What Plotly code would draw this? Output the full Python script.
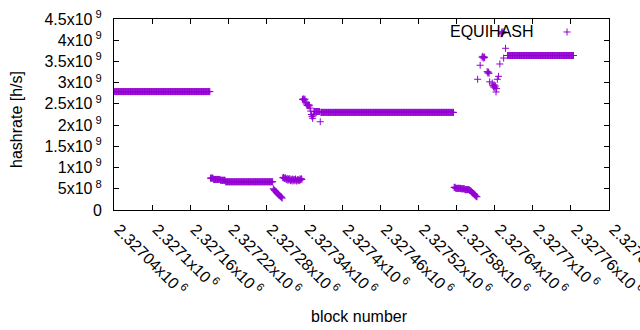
import numpy as np
import plotly.graph_objects as go

# ---------------- data (hashrate in units of 1e9 h/s) ----------------
# flat stretches: first block, number of consecutive blocks, hashrate
flat_first = [2327041, 2327192, 2327197, 2327208, 2327216, 2327355, 2327366,
              2327579, 2327587, 2327593, 2327660]
flat_count = [151, 5, 11, 8, 75, 10, 210, 8, 6, 7, 105]
flat_rate = [2.79, 0.75, 0.72, 0.70, 0.665, 2.32, 2.30, 0.51, 0.50, 0.48, 3.64]

# irregular stretches: first block and one hashrate per consecutive block
stretch_first = [2327291, 2327365, 2327576, 2327600]
stretch_rates = [
    # drop, noisy low plateau, jump up
    [0.50, 0.48, 0.46, 0.45, 0.43, 0.41, 0.40, 0.38, 0.37, 0.35, 0.34, 0.32, 0.31, 0.30, 0.28,
     0.76, 0.77, 0.75, 0.74, 0.76, 0.73, 0.72, 0.74, 0.70, 0.73, 0.71, 0.74, 0.69, 0.72, 0.70,
     0.73, 0.68, 0.71, 0.72, 0.69, 0.73, 0.70, 0.68, 0.71, 0.72, 0.70, 0.69, 0.73, 0.71, 0.74,
     0.72,
     2.61, 2.60, 2.62, 2.59, 2.61, 2.54, 2.50, 2.47, 2.46, 2.48, 2.45, 2.47,
     2.40, 2.33, 2.25, 2.20, 2.16, 2.22],
    [2.08],
    [0.53, 0.54, 0.52],
    [0.47, 0.46, 0.45, 0.44, 0.42, 0.41, 0.39, 0.38, 0.36, 0.35, 0.33, 0.32, 0.31],
]

# scattered blocks
scatter_block = [2327613, 2327617, 2327620, 2327621, 2327622, 2327623, 2327624, 2327628,
                 2327629, 2327630, 2327631, 2327632, 2327636, 2327637, 2327638, 2327639,
                 2327640, 2327641, 2327642, 2327643, 2327644, 2327646, 2327648, 2327650,
                 2327651, 2327652, 2327653, 2327654, 2327657]
scatter_rate = [3.08, 3.41, 3.60, 3.62, 3.58, 3.61, 3.59, 3.26, 3.23, 3.25, 3.22, 3.02,
                2.99, 2.93, 2.90, 2.95, 2.88, 2.92, 2.78, 2.86, 3.08, 3.15, 3.44, 4.15,
                4.19, 4.17, 4.20, 3.58, 3.81]

x_tickvals = [2327040 + 60 * k for k in range(14)]
x_ticktext = ["2.32704x10<sup> 6</sup>", "2.3271x10<sup> 6</sup>", "2.32716x10<sup> 6</sup>",
              "2.32722x10<sup> 6</sup>", "2.32728x10<sup> 6</sup>", "2.32734x10<sup> 6</sup>",
              "2.3274x10<sup> 6</sup>", "2.32746x10<sup> 6</sup>", "2.32752x10<sup> 6</sup>",
              "2.32758x10<sup> 6</sup>", "2.32764x10<sup> 6</sup>", "2.3277x10<sup> 6</sup>",
              "2.32776x10<sup> 6</sup>", "2.32782x10<sup> 6</sup>"]
y_tickvals = [0.5e9 * k for k in range(10)]
y_ticktext = ["0", "5x10<sup> 8</sup>", "1x10<sup> 9</sup>", "1.5x10<sup> 9</sup>",
              "2x10<sup> 9</sup>", "2.5x10<sup> 9</sup>", "3x10<sup> 9</sup>",
              "3.5x10<sup> 9</sup>", "4x10<sup> 9</sup>", "4.5x10<sup> 9</sup>"]

# ---------------- assemble ----------------
xs, ys = [], []
for f, c, r in zip(flat_first, flat_count, flat_rate):
    xs.extend(range(f, f + c))
    ys.extend([r * 1e9] * c)
for f, rates in zip(stretch_first, stretch_rates):
    xs.extend(range(f, f + len(rates)))
    ys.extend([r * 1e9 for r in rates])
xs.extend(scatter_block)
ys.extend([r * 1e9 for r in scatter_rate])
order = np.argsort(xs, kind="stable")
xs = np.array(xs)[order]
ys = np.array(ys)[order]

COLOR = "#9400D3"
FONT = "Liberation Sans, Arial, sans-serif"

fig = go.Figure()
fig.add_trace(go.Scatter(
    x=xs, y=ys, mode="markers", name="EQUIHASH", showlegend=False,
    marker=dict(symbol="cross-thin", size=5, color=COLOR,
                line=dict(width=1, color=COLOR)),
))

axis_common = dict(showline=True, linecolor="black", linewidth=1, mirror="ticks",
                   ticks="inside", ticklen=5, tickwidth=1, tickcolor="black",
                   showgrid=False, zeroline=False, automargin=False,
                   tickfont=dict(family=FONT, size=16, color="black"))

fig.update_layout(
    width=640, height=330,
    margin=dict(l=114, r=31, t=19, b=120),
    paper_bgcolor="white", plot_bgcolor="white",
    font=dict(family=FONT, size=16, color="black"),
    xaxis=dict(range=[2327040 - 0.01, 2327820 + 0.01], tickmode="array",
               tickvals=x_tickvals, ticktext=x_ticktext, tickangle=45,
               ticklabeloverflow="allow", ticklabelstandoff=3, ticklabelshift=5,
               **axis_common),
    yaxis=dict(range=[0, 4.5e9], tickmode="array", tickvals=y_tickvals,
               ticktext=y_ticktext, ticklabelstandoff=8, **axis_common),
    annotations=[
        dict(text="block number", xref="paper", yref="paper", x=0.495, y=-0.555,
             xanchor="center", yanchor="middle", showarrow=False,
             font=dict(family=FONT, size=16, color="black")),
        dict(text="hashrate [h/s]", xref="paper", yref="paper", x=-0.197, y=0.474,
             xanchor="center", yanchor="middle", textangle=-90, showarrow=False,
             font=dict(family=FONT, size=16, color="black")),
        dict(text="EQUIHASH", xref="paper", yref="paper", x=0.852, y=0.932,
             xanchor="right", yanchor="middle", showarrow=False,
             font=dict(family=FONT, size=16, color="black")),
    ],
    shapes=[
        dict(type="line", xref="paper", yref="paper", xsizemode="pixel", ysizemode="pixel",
             xanchor=0.9152, yanchor=0.932, x0=-3.5, x1=3.5, y0=0, y1=0,
             line=dict(color=COLOR, width=1)),
        dict(type="line", xref="paper", yref="paper", xsizemode="pixel", ysizemode="pixel",
             xanchor=0.9152, yanchor=0.932, x0=0, x1=0, y0=-3.5, y1=3.5,
             line=dict(color=COLOR, width=1)),
    ],
)

fig.write_html("out.html")
